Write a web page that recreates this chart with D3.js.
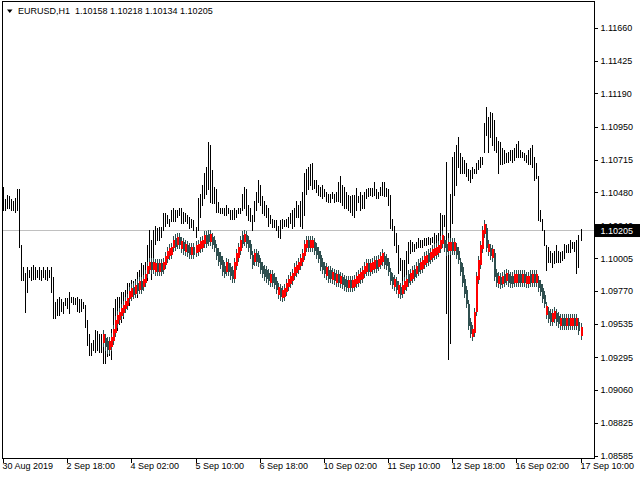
<!DOCTYPE html>
<html><head><meta charset="utf-8">
<script src="https://cdn.jsdelivr.net/npm/d3@7"></script>
<style>
body{margin:0;background:#fff}
svg{display:block}
text{font-family:"Liberation Sans",Arial,sans-serif;font-size:9px;fill:#000}
</style>
</head><body><svg id="c" width="640" height="480"></svg>
<script>
const symbol = "EURUSD,H1";
const timeLabels = ["30 Aug 2019","2 Sep 18:00","4 Sep 02:00","5 Sep 10:00","6 Sep 18:00","10 Sep 02:00","11 Sep 10:00","12 Sep 18:00","16 Sep 02:00","17 Sep 10:00"];
const timeLabelBars = [0,32,64,96,128,160,192,224,256,288];
const priceTicks = [1.11660,1.11425,1.11190,1.10950,1.10715,1.10480,1.10240,1.10005,1.09770,1.09535,1.09295,1.09060,1.08825,1.08585];
const lastOpen = 1.10158, lastClose = 1.10205;

const highs = [
1.1052,1.1043,1.1046,1.1045,1.1043,1.1042,1.1044,1.1050,1.1050,1.1010,
1.0994,1.0990,1.0994,1.0992,1.0994,1.0996,1.0994,1.0992,1.0994,1.0992,
1.0994,1.0992,1.0994,1.0992,1.0994,1.0987,1.0969,1.0971,1.0973,1.0971,
1.0969,1.0972,1.0972,1.0976,1.0973,1.0973,1.0972,1.0973,1.0971,1.0971,
1.0969,1.0967,1.0956,1.0946,1.0940,1.0942,1.0949,1.0948,1.0946,1.0946,
1.0949,1.0940,1.0944,1.0942,1.0950,1.0965,1.0971,1.0973,1.0973,1.0976,
1.0976,1.0978,1.0983,1.0983,1.0985,1.0984,1.0986,1.0991,1.0992,1.0997,
1.0996,1.0998,1.1010,1.1021,1.1014,1.1021,1.1024,1.1022,1.1023,1.1023,
1.1033,1.1033,1.1032,1.1029,1.1035,1.1037,1.1035,1.1035,1.1037,1.1037,
1.1034,1.1033,1.1032,1.1030,1.1029,1.1028,1.1023,1.1044,1.1047,1.1053,
1.1062,1.1066,1.1084,1.1082,1.1064,1.1052,1.1050,1.1041,1.1037,1.1037,
1.1037,1.1039,1.1037,1.1035,1.1035,1.1037,1.1035,1.1037,1.1037,1.1047,
1.1052,1.1050,1.1039,1.1037,1.1032,1.1042,1.1048,1.1057,1.1053,1.1045,
1.1042,1.1039,1.1037,1.1032,1.1029,1.1028,1.1028,1.1024,1.1028,1.1029,
1.1028,1.1029,1.1030,1.1033,1.1035,1.1037,1.1042,1.1039,1.1042,1.1048,
1.1062,1.1065,1.1066,1.1068,1.1069,1.1057,1.1057,1.1053,1.1052,1.1053,
1.1050,1.1048,1.1047,1.1047,1.1048,1.1047,1.1048,1.1055,1.1060,1.1053,
1.1052,1.1048,1.1046,1.1045,1.1046,1.1046,1.1051,1.1045,1.1048,1.1046,
1.1048,1.1050,1.1051,1.1051,1.1051,1.1055,1.1050,1.1048,1.1052,1.1055,
1.1055,1.1051,1.1050,1.1046,1.1029,1.1024,1.1019,1.1010,1.1001,1.0999,
1.0999,1.1006,1.1012,1.1014,1.1012,1.1011,1.1012,1.1015,1.1014,1.1014,
1.1015,1.1015,1.1016,1.1015,1.1016,1.1019,1.1017,1.1019,1.1033,1.1032,
1.1032,1.1070,1.1019,1.1047,1.1073,1.1077,1.1082,1.1088,1.1076,1.1073,
1.1071,1.1069,1.1065,1.1064,1.1066,1.1065,1.1069,1.1071,1.1073,1.1073,
1.1098,1.1109,1.1102,1.1106,1.1105,1.1100,1.1088,1.1085,1.1084,1.1080,
1.1078,1.1076,1.1077,1.1078,1.1078,1.1080,1.1083,1.1085,1.1078,1.1077,
1.1076,1.1075,1.1078,1.1080,1.1082,1.1073,1.1069,1.1060,1.1035,1.1029,
1.1021,1.1010,1.1009,1.1006,1.1004,1.1006,1.1010,1.1006,1.1005,1.1006,
1.1011,1.1010,1.1011,1.1014,1.1012,1.1012,1.1014,1.1017,1.10218];

const lows = [
1.1035,1.1035,1.1037,1.1037,1.1035,1.1035,1.1034,1.1035,1.1009,1.0985,
1.0985,1.0962,1.0976,1.0987,1.0985,1.0986,1.0986,1.0987,1.0986,1.0985,
1.0987,1.0986,1.0985,1.0987,1.0976,1.0958,1.0958,1.0960,1.0960,1.0963,
1.0961,1.0967,1.0965,1.0961,1.0969,1.0968,1.0968,1.0963,1.0962,1.0963,
1.0965,1.0951,1.0938,1.0931,1.0931,1.0935,1.0933,1.0935,1.0933,1.0933,
1.0925,1.0925,1.0930,1.0931,1.0928,1.0940,1.0947,1.0949,1.0953,1.0955,
1.0958,1.0962,1.0966,1.0967,1.0971,1.0972,1.0974,1.0973,1.0978,1.0979,
1.0981,1.0983,1.0985,1.0994,1.0986,1.0999,1.1011,1.1014,1.1014,1.1016,
1.1021,1.1024,1.1026,1.1024,1.1027,1.1027,1.1027,1.1030,1.1032,1.1026,
1.1026,1.1027,1.1026,1.1022,1.1023,1.1021,1.1016,1.1021,1.1030,1.1039,
1.1044,1.1047,1.1050,1.1041,1.1040,1.1040,1.1034,1.1034,1.1033,1.1033,
1.1032,1.1032,1.1033,1.1029,1.1029,1.1029,1.1030,1.1033,1.1033,1.1035,
1.1037,1.1032,1.1028,1.1027,1.1021,1.1027,1.1035,1.1041,1.1039,1.1033,
1.1032,1.1030,1.1024,1.1026,1.1023,1.1023,1.1021,1.1016,1.1015,1.1022,
1.1024,1.1024,1.1023,1.1026,1.1022,1.1024,1.1030,1.1030,1.1024,1.1022,
1.1032,1.1047,1.1050,1.1053,1.1050,1.1051,1.1048,1.1046,1.1045,1.1044,
1.1045,1.1042,1.1041,1.1041,1.1044,1.1041,1.1042,1.1042,1.1041,1.1039,
1.1037,1.1037,1.1035,1.1034,1.1032,1.1030,1.1035,1.1041,1.1035,1.1037,
1.1037,1.1044,1.1045,1.1046,1.1045,1.1046,1.1044,1.1044,1.1046,1.1046,
1.1045,1.1045,1.1039,1.1022,1.1021,1.1010,1.1005,1.0990,1.0992,1.0985,
1.0984,1.0989,1.0997,1.1004,1.1006,1.1006,1.1008,1.1009,1.1009,1.1009,
1.1010,1.1010,1.1011,1.1011,1.1012,1.1010,1.1012,1.1010,1.1012,1.1017,
1.1024,1.0961,1.0928,1.0940,1.1026,1.1046,1.1053,1.1066,1.1062,1.1062,
1.1062,1.1060,1.1057,1.1055,1.1058,1.1062,1.1062,1.1065,1.1066,1.1068,
1.1077,1.1089,1.1077,1.1088,1.1082,1.1078,1.1077,1.1062,1.1068,1.1068,
1.1069,1.1070,1.1070,1.1071,1.1070,1.1071,1.1073,1.1073,1.1073,1.1073,
1.1071,1.1070,1.1068,1.1068,1.1066,1.1057,1.1058,1.1028,1.1027,1.1021,
1.1010,1.0992,1.0998,1.0998,1.0994,1.0997,1.0998,1.0998,1.0998,1.0999,
1.1001,1.1005,1.1005,1.1005,1.1008,1.1006,1.0990,1.0994,1.10134];

// indicator (smoothed candles), first value belongs to bar sigStart
const sigStart = 50;
const sigOpen = [
1.0940,1.0943,1.0941,1.0935,1.0937,1.0941,1.0947,1.0953,1.0956,1.0959,
1.0961,1.0964,1.0966,1.0971,1.0973,1.0980,1.0975,1.0983,1.0978,1.0984,
1.0980,1.0983,1.0989,1.0992,1.0998,1.0992,1.0991,1.0997,1.0991,1.0997,
1.0992,1.0996,1.1000,1.1002,1.1003,1.1008,1.1015,1.1010,1.1016,1.1007,
1.1012,1.1005,1.1010,1.1009,1.1003,1.1009,1.1004,1.1005,1.1007,1.1008,
1.1011,1.1017,1.1018,1.1012,1.1016,1.1014,1.1008,1.1005,1.1002,1.0999,
1.0995,1.0991,1.0997,1.0994,1.0992,1.0986,1.0995,1.1001,1.1006,1.1017,
1.1012,1.1017,1.1014,1.1011,1.1003,1.0998,1.1004,1.1003,1.0998,1.0995,
1.0993,1.0992,1.0990,1.0983,1.0989,1.0987,1.0984,1.0974,1.0979,1.0972,
1.0973,1.0976,1.0980,1.0982,1.0984,1.0988,1.0990,1.0992,1.0995,1.0998,
1.1002,1.1008,1.1014,1.1008,1.1008,1.1012,1.1009,1.1006,1.1003,1.0998,
1.0995,1.0988,1.0992,1.0992,1.0985,1.0990,1.0983,1.0989,1.0982,1.0987,
1.0986,1.0985,1.0979,1.0985,1.0979,1.0980,1.0982,1.0983,1.0985,1.0986,
1.0989,1.0991,1.0997,1.0991,1.0992,1.0993,1.0999,1.0994,1.0996,1.0998,
1.1002,1.1001,1.0998,1.0991,1.0987,1.0980,1.0984,1.0975,1.0980,1.0975,
1.0978,1.0980,1.0989,1.0984,1.0986,1.0993,1.0989,1.0997,1.0992,1.0993,
1.0996,1.0997,1.1004,1.0999,1.1001,1.1002,1.1003,1.1004,1.1007,1.1011,
1.1014,1.1011,1.1006,1.1006,1.1012,1.1006,1.1009,1.1006,1.0998,1.0994,
1.0986,1.0978,1.0968,1.0955,1.0944,1.0947,1.0962,1.0985,1.0996,1.1007,
1.1018,1.1022,1.1005,1.1008,1.1001,1.1004,1.0990,1.0982,1.0987,1.0982,
1.0989,1.0984,1.0989,1.0988,1.0988,1.0983,1.0983,1.0989,1.0989,1.0983,
1.0989,1.0982,1.0982,1.0989,1.0983,1.0989,1.0983,1.0985,1.0982,1.0979,
1.0974,1.0960,1.0963,1.0961,1.0955,1.0957,1.0961,1.0959,1.0952,1.0958,
1.0958,1.0952,1.0958,1.0952,1.0952,1.0958,1.0952,1.0955,1.0945];
const sigClose = [
1.0946,1.0937,1.0935,1.0941,1.0944,1.0950,1.0956,1.0960,1.0962,1.0965,
1.0967,1.0970,1.0972,1.0977,1.0979,1.0974,1.0981,1.0977,1.0984,1.0978,
1.0986,1.0989,1.0995,1.0998,1.0992,1.0998,1.0997,1.0991,1.0997,1.0991,
1.0998,1.1002,1.1006,1.1008,1.1009,1.1014,1.1009,1.1016,1.1010,1.1013,
1.1006,1.1011,1.1004,1.1003,1.1009,1.1003,1.1010,1.1011,1.1013,1.1014,
1.1017,1.1011,1.1012,1.1018,1.1010,1.1008,1.1002,1.0998,1.0996,1.0991,
1.0989,1.0998,1.0991,1.0988,1.0986,1.0998,1.1004,1.1009,1.1014,1.1011,
1.1018,1.1011,1.1008,1.1003,1.0996,1.1004,1.0998,1.0997,1.0992,1.0989,
1.0987,1.0986,1.0984,1.0989,1.0983,1.0981,1.0978,1.0980,1.0973,1.0978,
1.0979,1.0983,1.0986,1.0988,1.0990,1.0994,1.0996,1.0998,1.1001,1.1004,
1.1011,1.1014,1.1008,1.1014,1.1014,1.1006,1.1003,1.1000,1.0994,1.0992,
1.0989,1.0994,1.0986,1.0986,1.0991,1.0984,1.0989,1.0983,1.0988,1.0981,
1.0980,1.0979,1.0985,1.0979,1.0985,1.0986,1.0988,1.0989,1.0991,1.0992,
1.0995,1.0997,1.0991,1.0997,1.0998,1.0999,1.0993,1.1000,1.1002,1.1004,
1.0996,1.0995,1.0991,1.0984,1.0981,1.0986,1.0978,1.0981,1.0974,1.0981,
1.0984,1.0986,1.0983,1.0990,1.0992,1.0987,1.0995,1.0991,1.0998,1.0999,
1.1002,1.1003,1.0998,1.1005,1.1007,1.1008,1.1009,1.1010,1.1014,1.1017,
1.1008,1.1005,1.1012,1.1012,1.1006,1.1012,1.1003,1.0999,1.0991,1.0983,
1.0975,1.0968,1.0952,1.0946,1.0950,1.0962,1.0988,1.0999,1.1010,1.1021,
1.1025,1.1008,1.1011,1.1002,1.1007,1.0987,1.0983,1.0988,1.0981,1.0988,
1.0983,1.0990,1.0983,1.0982,1.0982,1.0989,1.0989,1.0983,1.0983,1.0989,
1.0983,1.0988,1.0988,1.0983,1.0989,1.0983,1.0989,1.0979,1.0976,1.0971,
1.0968,1.0966,1.0957,1.0955,1.0961,1.0963,1.0955,1.0953,1.0958,1.0952,
1.0952,1.0958,1.0952,1.0958,1.0958,1.0952,1.0958,1.0948,1.0951];

// ---------- drawing ----------
const svg = d3.select("#c");
const frame = {l:2.5, r:594.5, t:1.5, b:458.5};
const N = highs.length;
const x = d3.scaleLinear().domain([0, N - 1]).range([3.5, 581]);
const y = d3.scaleLinear().domain([1.08585, 1.11660]).range([456, 28]);
const fmt = d3.format(".5f");
const slate = "#2F4F4F";
const bx = i => Math.floor(x(i));

// current price line (behind bars)
const yLast = Math.floor(y(lastClose)) + 0.5;
svg.append("line").attr("x1", frame.l).attr("x2", frame.r + 2)
  .attr("y1", yLast).attr("y2", yLast)
  .attr("stroke", "#C0C0C0").attr("stroke-width", 1);

// price bars (high-low)
svg.append("g").selectAll("rect").data(highs).join("rect")
  .attr("x", (d, i) => bx(i))
  .attr("width", 1)
  .attr("y", d => Math.round(y(d)))
  .attr("height", (d, i) => Math.max(1, Math.round(y(lows[i])) - Math.round(y(d)) + 1))
  .attr("fill", "#000")
  .attr("shape-rendering", "crispEdges");

// indicator
const sig = sigOpen.map((o, k) => ({i: sigStart + k, o, c: sigClose[k]}));
const pad = 4;
svg.append("g").selectAll("rect").data(sig).join("rect")
  .attr("x", d => bx(d.i))
  .attr("width", 1)
  .attr("y", d => Math.round(y(Math.max(d.o, d.c))) - pad)
  .attr("height", d => Math.round(y(Math.min(d.o, d.c))) - Math.round(y(Math.max(d.o, d.c))) + 2 * pad)
  .attr("fill", slate)
  .attr("shape-rendering", "crispEdges");
svg.append("g").selectAll("rect").data(sig).join("rect")
  .attr("x", d => bx(d.i))
  .attr("width", 2)
  .attr("y", d => Math.round(y(Math.max(d.o, d.c))))
  .attr("height", d => Math.max(1, Math.round(y(Math.min(d.o, d.c))) - Math.round(y(Math.max(d.o, d.c)))))
  .attr("fill", d => d.c >= d.o ? "#FF0000" : slate)
  .attr("shape-rendering", "crispEdges");

// frame
svg.append("rect").attr("x", frame.l).attr("y", frame.t)
  .attr("width", frame.r - frame.l).attr("height", frame.b - frame.t)
  .attr("fill", "none").attr("stroke", "#000").attr("stroke-width", 1);

// y axis
const yAxis = svg.append("g").attr("transform", `translate(${frame.r},0)`)
  .call(d3.axisRight(y).tickValues(priceTicks).tickFormat(fmt).tickSize(3).tickPadding(3).tickSizeOuter(0));
yAxis.select(".domain").remove();
yAxis.selectAll("line").attr("shape-rendering", "crispEdges");

// x axis
const xAxis = svg.append("g").attr("transform", `translate(0,${frame.b})`)
  .call(d3.axisBottom(x).tickValues(timeLabelBars).tickFormat((d, k) => timeLabels[k]).tickSize(4).tickPadding(0.6).tickSizeOuter(0));
xAxis.select(".domain").remove();
xAxis.selectAll(".tick").attr("transform", d => `translate(${bx(d) + 0.5},0)`);
xAxis.selectAll("text").attr("text-anchor", "start").attr("x", -1);
xAxis.selectAll("line").attr("shape-rendering", "crispEdges");

// current price label box
const boxG = svg.append("g");
boxG.append("rect").attr("x", frame.r + 0.5).attr("y", y(lastClose) - 6.5)
  .attr("width", 640 - frame.r).attr("height", 13).attr("fill", "#000");
boxG.append("text").attr("x", frame.r + 6).attr("y", y(lastClose)).attr("dy", "0.34em")
  .style("fill", "#fff").text(fmt(lastClose));

// title
svg.append("path").attr("d", "M7,9.5L12.5,9.5L9.75,13Z").attr("fill", "#000");
svg.append("text").attr("x", 18).attr("y", 14.3).style("white-space", "pre")
  .text(`${symbol}  ${fmt(lastOpen)} ${fmt(highs[N - 1])} ${fmt(lows[N - 1])} ${fmt(lastClose)}`);
</script>
</body></html>
